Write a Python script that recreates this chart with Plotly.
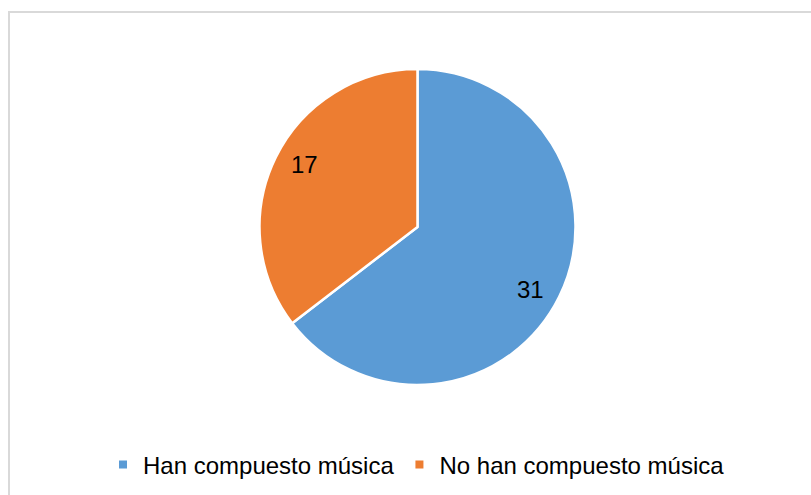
import math
import plotly.graph_objects as go

# Survey answers: how many respondents have composed music
categories = ["Han compuesto música", "No han compuesto música"]
counts = [31, 17]
colors = ["#5B9BD5", "#ED7D31"]

W, H = 811, 495
FONT = "Liberation Sans, Arial, sans-serif"

# pie geometry (pixels)
cx_px, cy_px, r_px = 417.5, 227.0, 158.0
dom_x = [(cx_px - 300) / W, (cx_px + 300) / W]
dom_y = [1 - (cy_px + r_px) / H, 1 - (cy_px - r_px) / H]

fig = go.Figure()
fig.add_trace(go.Pie(
    labels=categories,
    values=counts,
    sort=False,
    direction="clockwise",
    rotation=0,
    marker=dict(colors=colors, line=dict(color="white", width=2.5)),
    textinfo="none",
    hoverinfo="label+value",
    showlegend=False,
    domain=dict(x=dom_x, y=dom_y),
))

# legend entries with small square swatches
for name, col in zip(categories, colors):
    fig.add_trace(go.Scatter(
        x=[None], y=[None], mode="markers", name=name,
        marker=dict(symbol="square", size=8, color=col),
        showlegend=True,
    ))

# value labels placed near each slice's mid-angle, towards the rim
total = sum(counts)
cum = 0.0
annotations = []
for v in counts:
    mid = (cum + v / 2) / total * 2 * math.pi + math.radians(2.7)
    cum += v
    rr = 0.818 * r_px
    x_px = cx_px + rr * math.sin(mid)
    y_px = cy_px - rr * math.cos(mid)
    annotations.append(dict(
        x=x_px / W, y=1 - y_px / H, xref="paper", yref="paper",
        text=str(v), showarrow=False,
        font=dict(family=FONT, size=24, color="#000000"),
        xanchor="center", yanchor="middle",
    ))

fig.update_layout(
    width=W, height=H,
    margin=dict(l=0, r=0, t=0, b=0),
    paper_bgcolor="white", plot_bgcolor="white",
    font=dict(family=FONT, size=24, color="#000000"),
    xaxis=dict(visible=False), yaxis=dict(visible=False),
    annotations=annotations,
    legend=dict(
        orientation="h", x=103 / W, xanchor="left",
        y=1 - 465 / H, yanchor="middle",
        font=dict(family=FONT, size=24, color="#000000"),
        bgcolor="rgba(0,0,0,0)",
    ),
    shapes=[dict(
        type="rect", xref="paper", yref="paper",
        x0=9 / W, x1=1.05, y0=-0.05, y1=1 - 12 / H,
        line=dict(color="#D9D9D9", width=2), fillcolor="rgba(0,0,0,0)",
        layer="below",
    )],
)

fig.write_html("out.html")
